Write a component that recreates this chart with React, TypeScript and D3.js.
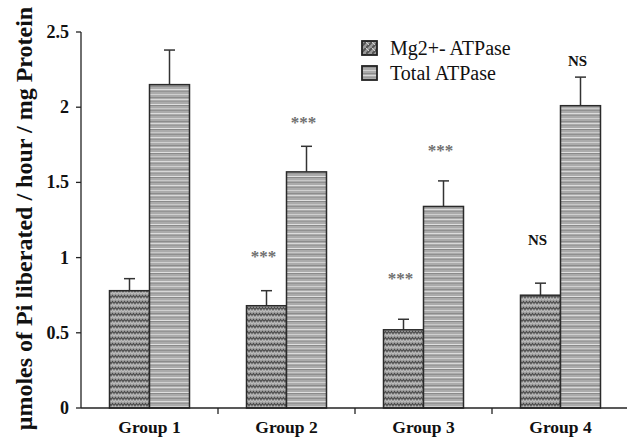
import React from "react";
import * as d3 from "d3";

const groups = ["Group 1", "Group 2", "Group 3", "Group 4"];
const seriesNames = ["Mg2+- ATPase", "Total ATPase"];
const mgValues = [0.78, 0.68, 0.52, 0.75];
const mgErrors = [0.08, 0.1, 0.07, 0.08];
const totalValues = [2.15, 1.57, 1.34, 2.01];
const totalErrors = [0.23, 0.17, 0.17, 0.19];
const mgSig = ["", "***", "***", "NS"];
const totalSig = ["", "***", "***", "NS"];
const mgSigAt = [0, 1.02, 0.87, 1.12];
const totalSigAt = [0, 1.91, 1.72, 2.31];
const yTicks = [0, 0.5, 1, 1.5, 2, 2.5];
const yTickLabels = ["0", "0.5", "1", "1.5", "2", "2.5"];
const yTitle = "\u03bcmoles of Pi liberated / hour / mg Protein";

const W = 627;
const H = 437;
const FONT = "'Liberation Serif', 'Times New Roman', serif";

export default function App() {
  const x0 = 81;
  const y = d3.scaleLinear().domain([0, 2.5]).range([408, 32]);
  const x = d3.scaleBand().domain(groups).range([x0, x0 + 4 * 137]).padding(0);
  const barW = 40;
  const centers = groups.map((g) => (x(g) as number) + x.bandwidth() / 2);

  const stripeLines = [
    [1, "#8c8c8c"], [3, "#d8d8d8"], [5, "#9a9a9a"], [8, "#e0e0e0"], [9, "#8a8a8a"],
    [12, "#c8c8c8"], [14, "#909090"], [17, "#dcdcdc"], [19, "#959595"], [22, "#d0d0d0"],
  ] as [number, string][];

  const bars: { cx: number; v: number; e: number; fill: string; sig: string; sigAt: number }[] = [];
  groups.forEach((g, i) => {
    bars.push({ cx: centers[i] - barW / 2, v: mgValues[i], e: mgErrors[i], fill: "url(#zig)", sig: mgSig[i], sigAt: mgSigAt[i] });
    bars.push({ cx: centers[i] + barW / 2, v: totalValues[i], e: totalErrors[i], fill: "url(#stripe)", sig: totalSig[i], sigAt: totalSigAt[i] });
  });

  return (
    <svg width={W} height={H} style={{ position: "absolute", left: 0, top: 0, background: "#fff" }} fontFamily={FONT}>
      <defs>
        <pattern id="zig" patternUnits="userSpaceOnUse" width="6" height="6">
          <rect width="6" height="6" fill="#a4a4a4" />
          <path d="M0,3.5 L1.5,1.5 L3,3.5 L4.5,1.5 L6,3.5" fill="none" stroke="#4a4a4a" strokeWidth="1.2" />
          <path d="M0,6 L1.5,4.5 L3,6 L4.5,4.5 L6,6" fill="none" stroke="#cfcfcf" strokeWidth="0.6" />
        </pattern>
        <pattern id="zigL" patternUnits="userSpaceOnUse" width="6" height="6">
          <rect width="6" height="6" fill="#9a9a9a" />
          <path d="M0,6 L6,0" stroke="#555" strokeWidth="2" />
          <path d="M0,0 L3,3" stroke="#d0d0d0" strokeWidth="1" />
        </pattern>
        <pattern id="stripe" patternUnits="userSpaceOnUse" width="40" height="24">
          <rect width="40" height="24" fill="#ababab" />
          {stripeLines.map(([yy, c], i) => (
            <rect key={i} x={0} y={yy} width={40} height={1} fill={c} />
          ))}
        </pattern>
      </defs>

      {bars.map((b, i) => {
        const left = b.cx - barW / 2;
        const top = y(b.v);
        const etop = y(b.v + b.e);
        return (
          <g key={i}>
            <line x1={b.cx} x2={b.cx} y1={top} y2={etop} stroke="#333" strokeWidth={1.5} />
            <line x1={b.cx - 5.5} x2={b.cx + 5.5} y1={etop} y2={etop} stroke="#333" strokeWidth={1.5} />
            <rect x={left} y={top} width={barW} height={y(0) - top} fill={b.fill} stroke="#2a2a2a" strokeWidth={1.5} />
            {b.sig === "***" && (
              <text x={b.cx - 3} y={y(b.sigAt) + 7} textAnchor="middle" fontSize={17} fill="#707070" fontWeight="bold">
                {b.sig}
              </text>
            )}
            {b.sig === "NS" && (
              <text x={b.cx - 3} y={y(b.sigAt) + 5} textAnchor="middle" fontSize={15} fill="#111" fontWeight="bold">
                {b.sig}
              </text>
            )}
          </g>
        );
      })}

      {/* y axis */}
      <line x1={x0} x2={x0} y1={y(2.5)} y2={y(0)} stroke="#222" strokeWidth={1.3} />
      {yTicks.map((t, i) => (
        <g key={i}>
          <line x1={x0 - 5} x2={x0} y1={y(t)} y2={y(t)} stroke="#222" strokeWidth={1.3} />
          <text x={69} y={y(t) + 6} textAnchor="end" fontSize={18} fontWeight="bold" fill="#111">
            {yTickLabels[i]}
          </text>
        </g>
      ))}
      {/* x axis */}
      <line x1={x0} x2={W} y1={y(0)} y2={y(0)} stroke="#222" strokeWidth={1.3} />
      {groups.slice(1).map((g) => (
        <line key={g} x1={x(g) as number} x2={x(g) as number} y1={y(0)} y2={y(0) + 6} stroke="#222" strokeWidth={1.3} />
      ))}
      {groups.map((g, i) => (
        <text key={g} x={centers[i]} y={432.5} textAnchor="middle" fontSize={17.5} fontWeight="bold" fill="#111">
          {g}
        </text>
      ))}

      <text transform={`translate(32,${218.5}) rotate(-90)`} textAnchor="middle" fontSize={24} fontWeight="bold" fill="#111">
        {yTitle}
      </text>

      {/* legend */}
      <rect x={362} y={41} width={15} height={14} fill="url(#zigL)" stroke="#222" strokeWidth={1.8} />
      <text x={390} y={55} fontSize={20} fill="#111">{seriesNames[0]}</text>
      <rect x={362} y={66} width={15} height={14} fill="url(#stripe)" stroke="#222" strokeWidth={1.8} />
      <text x={390} y={80} fontSize={20} fill="#111">{seriesNames[1]}</text>
    </svg>
  );
}
